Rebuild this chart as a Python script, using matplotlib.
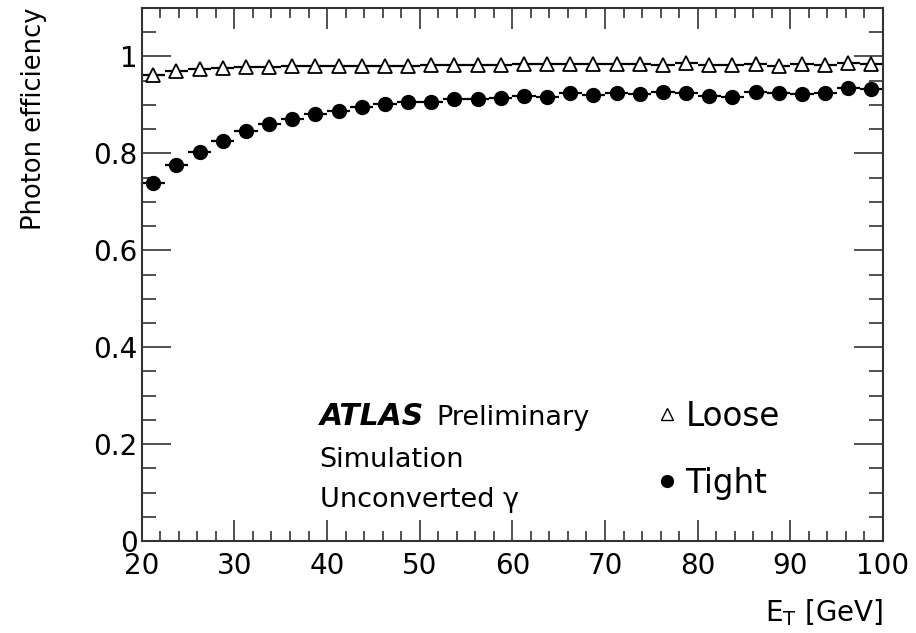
# Photon identification efficiency vs ET (loose / tight), unconverted photons

# IMPORTS
import matplotlib
matplotlib.use('Agg')
import matplotlib.pyplot as plt
from matplotlib.lines import Line2D
from matplotlib.ticker import MultipleLocator, FuncFormatter
import numpy as np

# DATA, bins of 2.5 GeV from 20 to 100
bin_lo = np.arange(20.0, 100.0, 2.5)
bin_half = 1.25
et_centres = bin_lo + bin_half

eff_loose = [0.962, 0.970, 0.974, 0.976, 0.978, 0.979, 0.980, 0.981,
             0.981, 0.981, 0.981, 0.981, 0.982, 0.983, 0.983, 0.983,
             0.984, 0.984, 0.984, 0.984, 0.985, 0.984, 0.983, 0.986,
             0.983, 0.983, 0.985, 0.981, 0.984, 0.983, 0.986, 0.985]
eff_tight = [0.739, 0.775, 0.803, 0.825, 0.846, 0.860, 0.871, 0.882,
             0.888, 0.895, 0.901, 0.906, 0.907, 0.913, 0.913, 0.915,
             0.919, 0.917, 0.924, 0.921, 0.925, 0.923, 0.926, 0.925,
             0.919, 0.917, 0.926, 0.924, 0.923, 0.925, 0.934, 0.932]

x_ticks = [20, 30, 40, 50, 60, 70, 80, 90, 100]
y_ticks = [0, 0.2, 0.4, 0.6, 0.8, 1.0]

plt.rcParams['font.family'] = 'DejaVu Sans'


# FUNCTIONS
def efficiency_plot():
    '''
    Loose and tight photon efficiency vs transverse energy
    '''
    fig = plt.figure(figsize=(9.16, 6.33), dpi=100)
    ax = fig.add_axes([0.1547, 0.1453, 0.8093, 0.8421])

    ax.errorbar(et_centres, eff_loose, xerr=bin_half, fmt='^', color='black',
                mfc='white', mec='black', mew=1.3, ms=10.5, elinewidth=1.6,
                capsize=0)
    ax.errorbar(et_centres, eff_tight, xerr=bin_half, fmt='o', color='black',
                ms=10, elinewidth=1.6, capsize=0)

    ax.set_xlim(20, 100)
    ax.set_ylim(0, 1.1)
    ax.set_xticks(x_ticks)
    ax.set_yticks(y_ticks)
    ax.xaxis.set_minor_locator(MultipleLocator(2))
    ax.yaxis.set_minor_locator(MultipleLocator(0.05))
    ax.yaxis.set_major_formatter(FuncFormatter(lambda v, p: '%g' % v))
    ax.tick_params(which='both', direction='in', top=True, right=True,
                   labelsize=20, width=1.2, color='#333333')
    ax.tick_params(axis='x', which='major', length=15, pad=8)
    ax.tick_params(axis='x', which='minor', length=7)
    ax.tick_params(axis='y', which='major', length=21, pad=3)
    ax.tick_params(axis='y', which='minor', length=10)
    for sp in ax.spines.values():
        sp.set_linewidth(1.5)
        sp.set_color('#333333')

    ax.set_ylabel('Photon efficiency', fontsize=18.5, loc='top')
    ax.yaxis.set_label_coords(-0.128, 1.0)
    ax.set_xlabel(r'E$_\mathrm{T}$ [GeV]', fontsize=20, loc='right')
    ax.xaxis.set_label_coords(1.0, -0.105)

    ax.text(39.2, 0.240, 'ATLAS', fontsize=21.5, fontweight='bold',
            fontstyle='italic')
    ax.text(51.8, 0.240, 'Preliminary', fontsize=19.5)
    ax.text(39.2, 0.153, 'Simulation', fontsize=19.5)
    ax.text(39.2, 0.070, 'Unconverted γ', fontsize=19.5)

    handles = [Line2D([], [], marker='^', ls='none', mfc='white',
                      mec='black', ms=8, mew=1),
               Line2D([], [], marker='o', ls='none', color='black', ms=8.5)]
    ax.legend(handles, ['Loose', 'Tight'], loc='upper left',
              bbox_to_anchor=(0.674, 0.296), frameon=False, fontsize=23.5,
              handlelength=0.6, handletextpad=0.25, labelspacing=1.05,
              borderpad=0)

    fig.savefig('out.png', dpi=100)
    plt.close(fig)
    return


if __name__ == "__main__":
    efficiency_plot()
